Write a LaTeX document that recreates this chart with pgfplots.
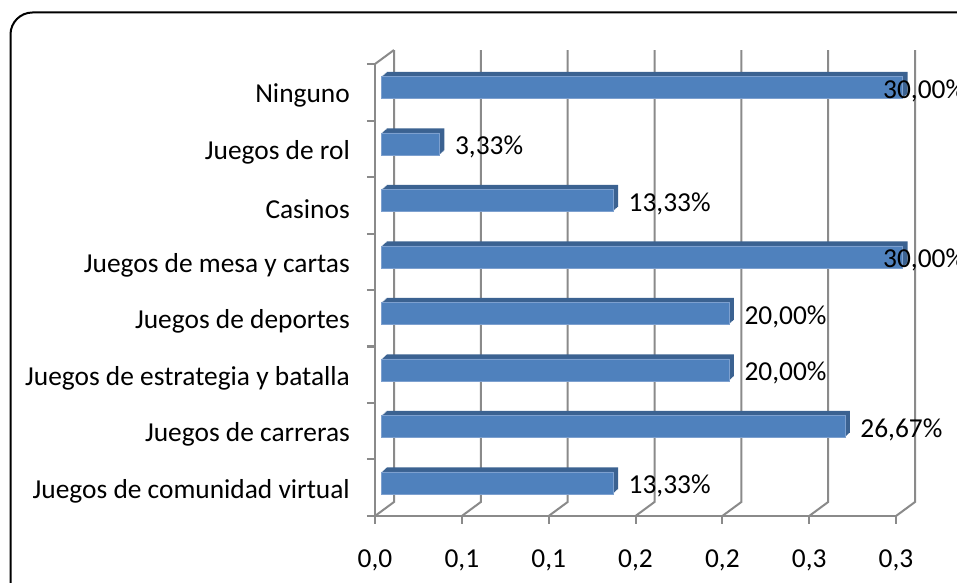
\documentclass[border=0pt]{standalone}
\usepackage{fontspec}
\setmainfont{Carlito}
\usepackage{pgfplots}
\usepackage{pgfplotstable}
\pgfplotsset{compat=1.18}
\definecolor{barfront}{HTML}{4F81BD}
\definecolor{bardark}{HTML}{3B6291}
\definecolor{baredge}{HTML}{7DA0CF}
\definecolor{gridgray}{HTML}{8A8A8A}
\pgfplotstableread{
y pct val lx
0 13.33 0.1333 0.1333
1 26.67 0.2667 0.2667
2 20.00 0.2000 0.2000
3 20.00 0.2000 0.2000
4 30.00 0.3000 0.2798
5 13.33 0.1333 0.1333
6 3.33 0.0333 0.0333
7 30.00 0.3000 0.2798
}\data
\begin{document}
\begin{tikzpicture}[font=\fontsize{27.5}{32}\selectfont]
\useasboundingbox (0,0) rectangle (957bp,583bp);
\draw[line width=2bp, rounded corners=22bp] (10.5bp,-40bp) rectangle (1000bp,570.5bp);
\begin{axis}[
  at={(375bp,67bp)}, anchor=south west,
  width=521bp, height=452bp, scale only axis,
  xmin=0, xmax=0.3, ymin=-0.5, ymax=7.5,
  clip=false,
  axis lines*=left,
  axis line style={draw=gridgray, line width=2bp},
  tick align=outside,
  major tick length=8bp, minor tick length=8bp,
  xtick={0,0.05,0.1,0.15,0.2,0.25,0.3},
  xticklabels={{0,0},{0,1},{0,1},{0,2},{0,2},{0,3},{0,3}},
  ytick={0,...,7},
  yticklabels={Juegos de comunidad virtual,Juegos de carreras,Juegos de estrategia y batalla,Juegos de deportes,Juegos de mesa y cartas,Casinos,Juegos de rol,Ninguno},
  minor ytick={-0.5,0.5,...,7.5},
  xtick style={draw=gridgray, line width=2bp},
  major y tick style={draw=none},
  minor y tick style={draw=gridgray, line width=2bp},
  xticklabel style={anchor=north, inner sep=0pt, yshift=-26bp},
  yticklabel style={anchor=east, inner sep=0pt, xshift=-17bp, yshift=-3.5bp},
  /pgf/number format/assume math mode=true,
]
\pgfplotsinvokeforeach{0,0.05,0.1,0.15,0.2,0.25,0.3}{
  \draw[gridgray, line width=2bp] (axis cs:#1,-0.5) -- ++(19bp,14bp) -- ([xshift=19bp,yshift=14bp]axis cs:#1,7.5);
}
\draw[gridgray, line width=2bp] (axis cs:0,7.5) -- ++(19bp,14bp);
% depth of the bars
\addplot[xbar, bar width=22bp, bar shift=0pt, fill=bardark, draw=none, xshift=7.7bp, yshift=5.8bp] table[x=val, y=y] {\data};
\addplot[xbar, bar width=22bp, bar shift=0pt, fill=bardark, draw=none, xshift=8.7bp, yshift=6.7bp] table[x=val, y=y] {\data};
\addplot[xbar, bar width=22bp, bar shift=0pt, fill=bardark, draw=none, xshift=9.7bp, yshift=7.6bp] table[x=val, y=y] {\data};
\addplot[xbar, bar width=22bp, bar shift=0pt, fill=bardark, draw=none, xshift=10.7bp, yshift=8.5bp] table[x=val, y=y] {\data};
\addplot[xbar, bar width=22bp, bar shift=0pt, fill=bardark, draw=none, xshift=11.6bp, yshift=9.4bp] table[x=val, y=y] {\data};
% front faces
\addplot[xbar, bar width=22bp, bar shift=0pt, fill=barfront, draw=baredge, line width=0.6bp, xshift=6.7bp, yshift=4.9bp] table[x=val, y=y] {\data};
% data labels
\addplot[draw=none, mark=none, point meta=explicit,
  nodes near coords={\pgfmathprintnumber[fixed,fixed zerofill,precision=2,use comma]{\pgfplotspointmeta}\%},
  every node near coord/.append style={anchor=west, inner sep=0pt, xshift=22bp, yshift=1.5bp, text=black}]
  table[x=lx, y=y, meta=pct] {\data};
\end{axis}
\end{tikzpicture}
\end{document}
